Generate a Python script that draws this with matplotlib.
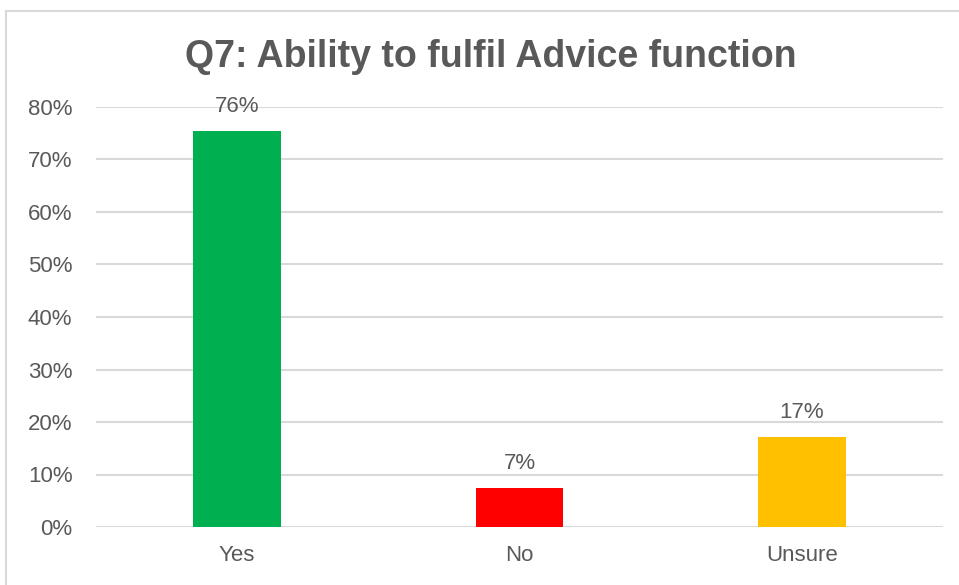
import matplotlib
matplotlib.use("Agg")
import matplotlib.pyplot as plt
from matplotlib.patches import Rectangle
from matplotlib.ticker import FuncFormatter, MultipleLocator

categories = ["Yes", "No", "Unsure"]
shares = [0.755, 0.074, 0.171]
bar_colors = ["#00B050", "#FF0000", "#FFC000"]
title = "Q7: Ability to fulfil Advice function"

plt.rcParams["font.family"] = ["Liberation Sans", "DejaVu Sans"]
text_color = "#595959"

W, H = 959, 585
fig = plt.figure(figsize=(W / 100, H / 100), dpi=100)
fig.patch.set_facecolor("white")

# chart frame
fig.patches.append(Rectangle((6 / W, -0.1), 1.1, 1 - 11 / H + 0.1,
                             transform=fig.transFigure, fill=False,
                             edgecolor="#d9d9d9", linewidth=1.5))

ax = fig.add_axes([96 / W, 1 - 527 / H, (943 - 96) / W, (527 - 107) / H])
x = list(range(len(categories)))
bars = ax.bar(x, shares, width=0.31, color=bar_colors, zorder=3)

ax.set_xlim(-0.5, len(categories) - 0.5)
ax.set_ylim(0, 0.8)
ax.yaxis.set_major_locator(MultipleLocator(0.1))
ax.yaxis.set_major_formatter(FuncFormatter(lambda v, p: f"{v:.0%}"))
ax.grid(axis="y", color="#d9d9d9", linewidth=1.5, zorder=0)
for s in ax.spines.values():
    s.set_visible(False)
ax.tick_params(axis="both", length=0, labelsize=16, colors=text_color)
ax.tick_params(axis="y", pad=17)
ax.tick_params(axis="x", pad=13)
ax.set_xticks(x)
ax.set_xticklabels(categories)

for b, v in zip(bars, shares):
    ax.annotate(f"{v:.0%}", (b.get_x() + b.get_width() / 2, v),
                xytext=(0, 10), textcoords="offset points",
                ha="center", va="bottom", fontsize=16, color=text_color)

fig.text(491 / W, 1 - 67 / H, title, ha="center", va="baseline",
         fontsize=27, fontweight="bold", color=text_color)

fig.savefig("out.png", dpi=100)
